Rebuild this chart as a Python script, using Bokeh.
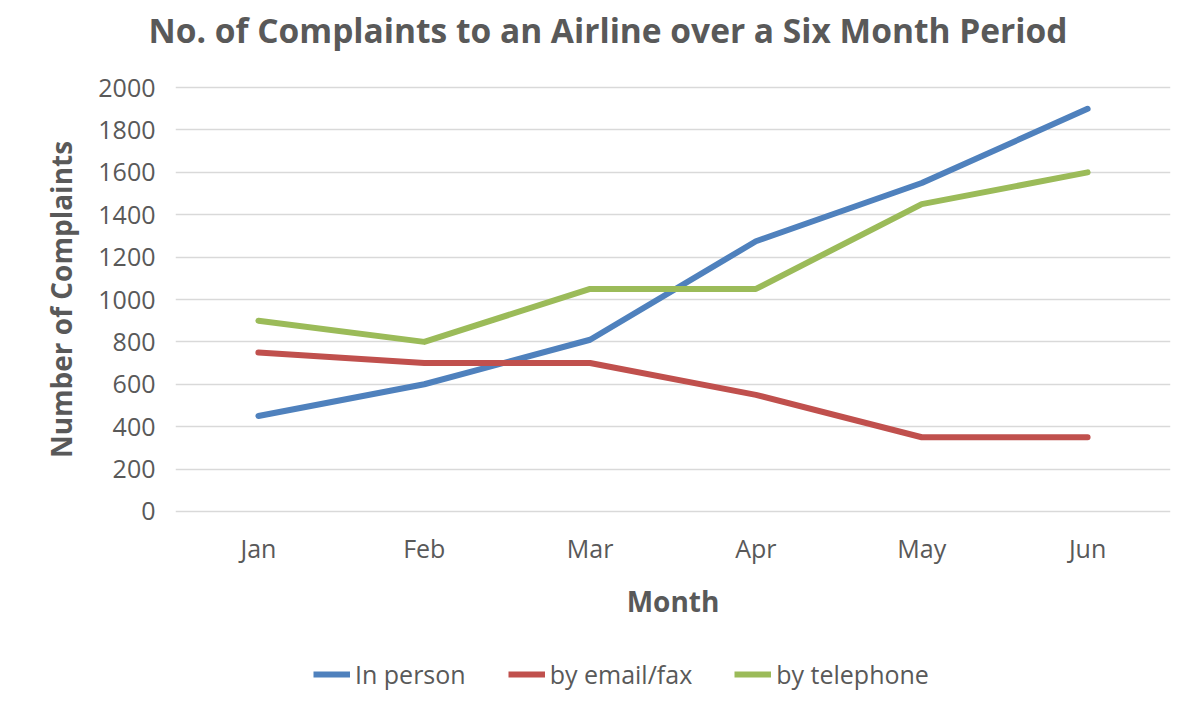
from bokeh.plotting import figure
from bokeh.models import Legend, LegendItem, FactorRange
from bokeh.layouts import column
from bokeh.embed import file_html
from bokeh.resources import INLINE

months = ["Jan", "Feb", "Mar", "Apr", "May", "Jun"]
in_person = [450, 600, 810, 1275, 1550, 1900]
email_fax = [750, 700, 700, 550, 350, 350]
telephone = [900, 800, 1050, 1050, 1450, 1600]
series_names = ["In person", "by email/fax", "by telephone"]
colors = ["#4F81BD", "#C0504D", "#9BBB59"]
y_ticks = [0, 200, 400, 600, 800, 1000, 1200, 1400, 1600, 1800, 2000]

TXT = "#595959"
FONT = "Open Sans"
W = 1184
H_TOP = 62
H_MAIN = 578
H_LEG = 66


def blank(fig):
    fig.xaxis.visible = False
    fig.yaxis.visible = False
    fig.grid.visible = False
    fig.outline_line_color = None
    fig.background_fill_color = "white"
    fig.border_fill_color = "white"


# ---- title strip ----
head = figure(
    width=W, height=H_TOP, x_range=(0, 1), y_range=(0, 1),
    output_backend="svg", toolbar_location=None,
    min_border=0, min_border_top=0, min_border_bottom=0,
    title="No. of Complaints to an Airline over a Six Month Period",
)
blank(head)
head.title.text_font = FONT
head.title.text_font_size = "33.5px"
head.title.text_font_style = "bold"
head.title.text_color = TXT
head.title.align = "left"
head.title.offset = -27
head.title.standoff = 20

# ---- main chart ----
p = figure(
    width=W, height=H_MAIN,
    x_range=FactorRange(*months, range_padding=0),
    y_range=(-10, 2010),
    output_backend="svg", toolbar_location=None,
    min_border_left=175, min_border_right=14,
    min_border_top=85 - H_TOP, min_border_bottom=H_MAIN - (513 - H_TOP),
)
p.outline_line_color = None
p.background_fill_color = "white"
p.border_fill_color = "white"

for vals, c in zip([in_person, email_fax, telephone], colors):
    p.line(months, vals, line_color=c, line_width=6, line_join="round", line_cap="round")

p.xgrid.grid_line_color = None
p.ygrid.grid_line_color = "#d9d9d9"
p.ygrid.grid_line_width = 1.5
p.yaxis.ticker = y_ticks

for ax in (p.xaxis[0], p.yaxis[0]):
    ax.axis_line_color = None
    ax.major_tick_line_color = None
    ax.minor_tick_line_color = None
    ax.major_tick_in = 0
    ax.major_tick_out = 0
    ax.minor_tick_in = 0
    ax.minor_tick_out = 0
    ax.major_label_text_font = FONT
    ax.major_label_text_font_size = "25px"
    ax.major_label_text_color = TXT
    ax.axis_label_text_font = FONT
    ax.axis_label_text_font_style = "bold"
    ax.axis_label_text_color = TXT
    ax.axis_label_text_font_size = "28px"

p.yaxis.axis_label = "Number of Complaints"
p.yaxis.major_label_standoff = 20
p.yaxis.axis_label_standoff = 15
p.xaxis.axis_label = "Month"
p.xaxis.major_label_standoff = 17
p.xaxis.axis_label_standoff = 14

# ---- legend strip ----
leg_fig = figure(
    width=W, height=H_LEG, x_range=(0, 1), y_range=(0, 1),
    output_backend="svg", toolbar_location=None,
    min_border=0, min_border_top=0, min_border_bottom=0,
)
blank(leg_fig)
nan = float("nan")
proxies = [leg_fig.line(x=[nan], y=[nan], line_color=c, line_width=6) for c in colors]

legend = Legend(
    items=[LegendItem(label=n, renderers=[r]) for n, r in zip(series_names, proxies)],
    orientation="horizontal",
    location=(138, 15),
    border_line_color=None,
    background_fill_alpha=0,
    padding=0, margin=0,
    spacing=42,
    glyph_width=37, glyph_height=24,
    label_standoff=5,
    label_text_font=FONT,
    label_text_font_size="25px",
    label_text_color=TXT,
)
leg_fig.add_layout(legend, "center")

layout = column(head, p, leg_fig, spacing=0)
open("out.html", "w").write(file_html(layout, INLINE))
